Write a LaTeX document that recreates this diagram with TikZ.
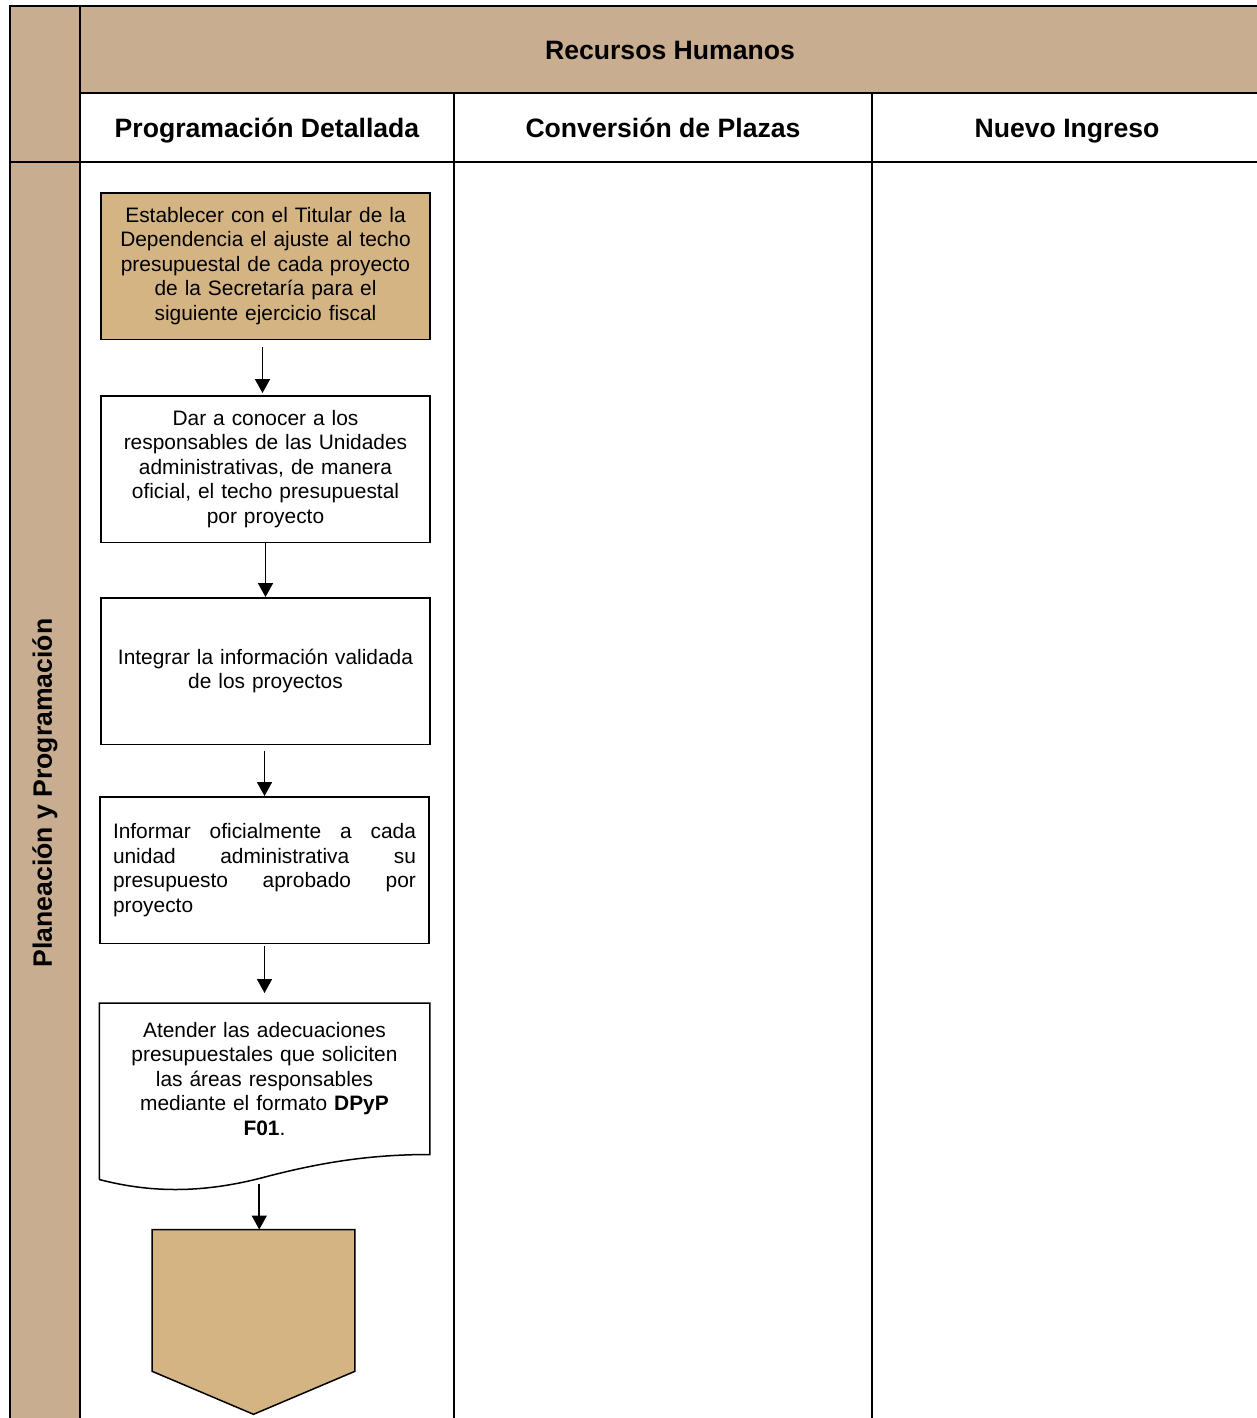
\documentclass[tikz,border=0pt]{standalone}
\usepackage{fontspec}
\setmainfont{Liberation Sans}
\usetikzlibrary{positioning}
\usetikzlibrary{calc}
\usetikzlibrary{arrows.meta}
\definecolor{lane tan}{RGB}{200,173,145}
\definecolor{step tan}{RGB}{212,180,131}
\tikzset{
    % Plain filled heads, as on the flow lines
    >={Triangle[length=7pt,width=7.5pt]},
%
    % Grid lines of the swimlane table
    lane line/.style={line width=1pt},
%
    % Header band and side strip
    lane fill/.style={fill=lane tan},
%
    % An ordinary process step
    process box/.style={
        draw, line width=0.75pt, rectangle, fill=white,
        minimum width=164.5pt, minimum height=73.25pt,
        text width=150pt, align=center, inner sep=0pt,
        font=\fontsize{10.45}{12.25}\selectfont},
%
    % The first step and the page connector are highlighted
    start fill/.style={fill=step tan},
%
    % Column and lane titles
    title text/.style={font=\fontsize{13.3}{15}\selectfont\bfseries},
%
    % Connectors between the steps
    flow/.style={->, line width=0.9pt}}

\begin{document}
\begin{tikzpicture}[x=0.5pt, y=-0.5pt, node distance=27pt]

\useasboundingbox (0,0) rectangle (1257,1418);

% Swimlane table

\path [lane fill] (10,6) rectangle (80,1418);
\path [lane fill] (80,6) rectangle (1257,93);
\draw [lane line] (1257,6) -- (10,6) -- (10,1418);
\draw [lane line] (80,6) -- (80,1418);
\draw [lane line] (80,93) -- (1257,93);
\draw [lane line] (10,162) -- (1257,162);
\draw [lane line] (454,93) -- (454,1418);
\draw [lane line] (872,93) -- (872,1418);

\node [title text, anchor=base] (area) at (670,60) {Recursos Humanos};
\node [title text, anchor=base] (detail col) at (267,137)
    {Programación Detallada};
\node [title text, anchor=base] (convert col) at (663,137)
    {Conversión de Plazas};
\node [title text, anchor=base] (hiring col) at (1067,137) {Nuevo Ingreso};
\node [title text, rotate=90] (planning lane) at (45,793)
    {Planeación y Programación};

% Steps

\node [process box, start fill] (adjust) at (265.5,266) {
    Establecer con el Titular de la\\
    Dependencia el ajuste al techo\\
    presupuestal de cada proyecto\\
    de la Secretaría para el\\
    siguiente ejercicio fiscal};

\node [process box, below=27.5pt of adjust] (announce) {
    Dar a conocer a los\\
    responsables de las Unidades\\
    administrativas, de manera\\
    oficial, el techo presupuestal\\
    por proyecto};

\node [process box, below=of announce] (integrate) {
    Integrar la información validada\\
    de los proyectos};

\node [process box, below=25.5pt of integrate, xshift=-0.5pt,
    align=justify, text width=151.5pt] (inform) {
    Informar oficialmente a cada\linebreak
    unidad administrativa su\linebreak
    presupuesto aprobado por\linebreak
    proyecto};

\node [process box, draw=none, minimum height=75pt,
    below=29.5pt of inform] (requests) {
    Atender las adecuaciones\\
    presupuestales que soliciten\\
    las áreas responsables\\
    mediante el formato \textbf{DPyP}\\
    \textbf{F01}.};

% Document outline with its wavy foot
\draw [line width=0.75pt]
    ($(requests.south west)+(0,25)$) -- (requests.north west)
    -- (requests.north east) -- (requests.south east)
    .. controls ($(requests.south west)+(270,0)$)
       and ($(requests.south west)+(220,8)$)
    .. ($(requests.south west)+(160,24)$)
    .. controls ($(requests.south west)+(100,39)$)
       and ($(requests.south west)+(50,38)$)
    .. ($(requests.south west)+(0,25)$);
\coordinate (requests foot) at ($(requests.south west)+(160,29)$);

\node [minimum width=101pt, minimum height=70.5pt, inner sep=0pt,
    below=37.5pt of requests, xshift=-5.5pt] (next page) {};
\draw [line width=0.75pt, start fill]
    (next page.north west) -- (next page.north east)
    -- (next page.south east) -- ($(next page.south)+(0,43)$)
    -- (next page.south west) -- cycle;

% Flow

\draw [flow] ([xshift=-1.5pt,yshift=-3.5pt]adjust.south)
    -- ([xshift=-1.5pt,yshift=1pt]announce.north);
\draw [flow] (announce.south) -- (integrate.north);
\draw [flow] ([yshift=-3pt]inform.north |- integrate.south) -- (inform.north);
\draw [flow] ([yshift=-1pt]inform.south) -- ([yshift=5pt]requests.north);
\draw [flow] (requests foot) -- (requests foot |- next page.north);

\end{tikzpicture}
\end{document}
